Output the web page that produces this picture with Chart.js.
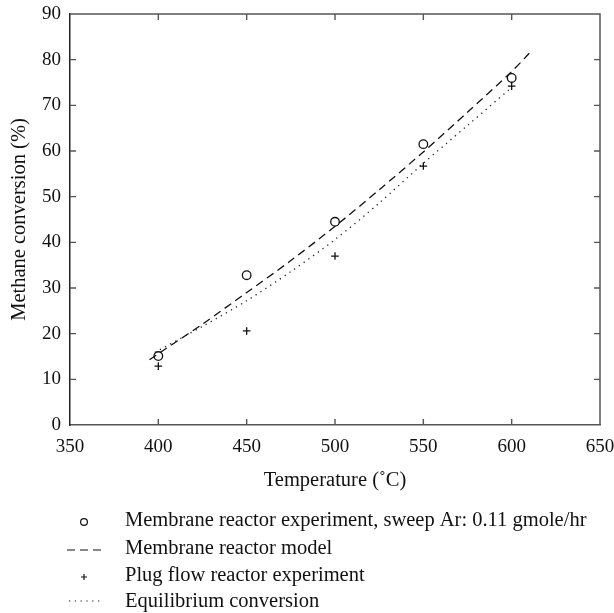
<!DOCTYPE html>
<html>
<head>
<meta charset="utf-8">
<script src="https://cdn.jsdelivr.net/npm/chart.js@4.4.1/dist/chart.umd.min.js"></script>
<style>
  html, body { margin: 0; padding: 0; background: #fff; }
  #wrap { position: relative; width: 614px; height: 613px; }
</style>
</head>
<body>
<div id="wrap"><canvas id="c" width="614" height="613"></canvas></div>
<script>
// ---- Data ----
const expTemps = [400, 450, 500, 550, 600];
const membraneExp = [15.1, 32.8, 44.5, 61.5, 76.0];
const plugFlowExp = [12.9, 20.6, 37.0, 56.7, 74.2];
const modelTemps = [395, 400, 425, 450, 475, 500, 525, 550, 575, 600, 610];
const membraneModel = [14.3, 15.6, 22.1, 29.0, 36.0, 43.5, 51.5, 59.8, 68.5, 77.4, 81.4];
const eqTemps = [398, 400, 425, 450, 475, 500, 525, 550, 575, 600];
const equilibrium = [15.9, 16.3, 21.6, 27.2, 33.6, 40.6, 48.6, 57.3, 65.6, 73.9];
const xTicks = [350, 400, 450, 500, 550, 600, 650];
const yTicks = [0, 10, 20, 30, 40, 50, 60, 70, 80, 90];
const legendLabels = [
  'Membrane reactor experiment, sweep Ar: 0.11 gmole/hr',
  'Membrane reactor model',
  'Plug flow reactor experiment',
  'Equilibrium conversion'
];
const xTitle = 'Temperature (\u02DAC)';
const yTitle = 'Methane conversion (%)';

const pts = (xs, ys) => xs.map((x, i) => ({ x: x, y: ys[i] }));
const SERIF = '"Liberation Serif", "DejaVu Serif", serif';

const frameTicks = {
  id: 'frameTicks',
  afterDraw(chart) {
    const { ctx, chartArea: a, scales: { x, y } } = chart;
    ctx.save();
    ctx.lineWidth = 1.5;
    ctx.strokeStyle = '#555';
    ctx.beginPath();
    ctx.moveTo(a.left, a.top); ctx.lineTo(a.right, a.top); ctx.lineTo(a.right, a.bottom);
    ctx.stroke();
    const L = 6;
    ctx.lineWidth = 1.4;
    ctx.beginPath();
    xTicks.forEach(v => {
      const px = x.getPixelForValue(v);
      if (px <= a.left + 1 || px >= a.right - 1) return;
      ctx.moveTo(px, a.bottom); ctx.lineTo(px, a.bottom - L);
      ctx.moveTo(px, a.top); ctx.lineTo(px, a.top + L);
    });
    yTicks.forEach(v => {
      const py = y.getPixelForValue(v);
      if (py <= a.top + 1 || py >= a.bottom - 1) return;
      ctx.moveTo(a.left, py); ctx.lineTo(a.left + L, py);
      ctx.moveTo(a.right, py); ctx.lineTo(a.right - L, py);
    });
    ctx.stroke();

    // legend
    ctx.fillStyle = '#111';
    ctx.strokeStyle = '#111';
    ctx.font = '20.5px ' + SERIF;
    ctx.textBaseline = 'middle';
    ctx.textAlign = 'left';
    const rows = [521, 549, 576, 602];
    const tx = 125, mx = 84;
    legendLabels.forEach((t, i) => ctx.fillText(t, tx, rows[i]));
    ctx.lineWidth = 1.2;
    ctx.beginPath(); ctx.arc(mx, rows[0] + 1, 3.4, 0, Math.PI * 2); ctx.stroke();
    ctx.setLineDash([8, 5]);
    ctx.beginPath(); ctx.moveTo(67, rows[1] + 1); ctx.lineTo(102, rows[1] + 1); ctx.stroke();
    ctx.setLineDash([]);
    ctx.beginPath();
    ctx.moveTo(mx - 3, rows[2] + 1); ctx.lineTo(mx + 3, rows[2] + 1);
    ctx.moveTo(mx, rows[2] - 2); ctx.lineTo(mx, rows[2] + 4);
    ctx.stroke();
    ctx.setLineDash([1.2, 4.6]);
    ctx.beginPath(); ctx.moveTo(69, rows[3] - 1); ctx.lineTo(103, rows[3] - 1); ctx.stroke();
    ctx.restore();
  }
};

new Chart(document.getElementById('c'), {
  type: 'scatter',
  data: {
    datasets: [
      {
        label: legendLabels[0],
        data: pts(expTemps, membraneExp),
        pointStyle: 'circle', pointRadius: 4.3, pointBorderWidth: 1.3,
        borderColor: '#111', backgroundColor: 'rgba(255,255,255,0)', showLine: false
      },
      {
        label: legendLabels[1],
        data: pts(modelTemps, membraneModel),
        showLine: true, pointRadius: 0, borderColor: '#111', borderWidth: 1.3,
        borderDash: [8, 5], tension: 0.3, fill: false
      },
      {
        label: legendLabels[2],
        data: pts(expTemps, plugFlowExp),
        pointStyle: 'cross', pointRadius: 3.8, pointBorderWidth: 1.3,
        borderColor: '#111', backgroundColor: '#111', showLine: false
      },
      {
        label: legendLabels[3],
        data: pts(eqTemps, equilibrium),
        showLine: true, pointRadius: 0, borderColor: '#222', borderWidth: 1.3,
        borderDash: [1.3, 4.5], tension: 0.3, fill: false
      }
    ]
  },
  options: {
    responsive: false,
    animation: false,
    devicePixelRatio: 1,
    layout: { padding: { left: 0, right: 14, top: 14, bottom: 118 } },
    plugins: { legend: { display: false }, tooltip: { enabled: false } },
    scales: {
      x: {
        type: 'linear', min: 350, max: 650,
        afterBuildTicks: s => { s.ticks = xTicks.map(v => ({ value: v })); },
        afterFit: s => { s.height = 70; s.paddingLeft = 0; s.paddingRight = 0; },
        grid: { drawOnChartArea: false, drawTicks: false },
        border: { display: true, color: '#555', width: 1.5 },
        ticks: { color: '#111', padding: 11, font: { family: SERIF, size: 19 }, maxRotation: 0 },
        title: { display: true, text: xTitle, color: '#111', font: { family: SERIF, size: 20.5 }, padding: { top: 0, bottom: 2 } }
      },
      y: {
        type: 'linear', min: 0, max: 90,
        afterBuildTicks: s => { s.ticks = yTicks.map(v => ({ value: v })); },
        afterFit: s => { s.width = 70; s.paddingTop = 0; s.paddingBottom = 0; },
        grid: { drawOnChartArea: false, drawTicks: false },
        border: { display: true, color: '#222', width: 1.5 },
        ticks: { color: '#111', padding: 9, font: { family: SERIF, size: 19 } },
        title: { display: true, text: yTitle, color: '#111', font: { family: SERIF, size: 20.5 }, padding: { top: 7, bottom: 0 } }
      }
    }
  },
  plugins: [frameTicks]
});
</script>
</body>
</html>
